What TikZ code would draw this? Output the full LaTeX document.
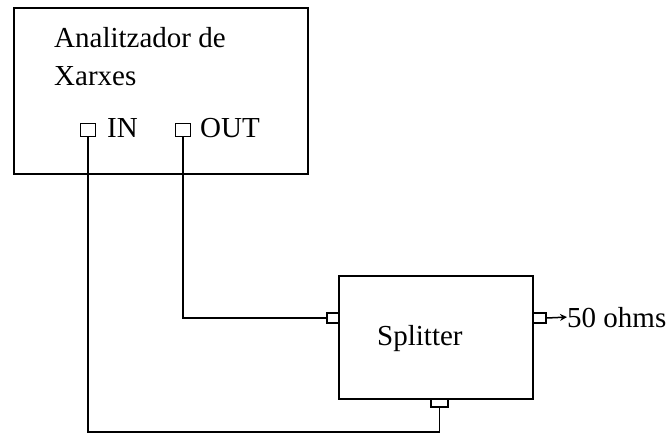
\documentclass[tikz,border=0pt]{standalone}
\usepackage{fontspec}
\setmainfont{Liberation Serif}
\usetikzlibrary{arrows.meta}
\begin{document}
\begin{tikzpicture}[x=1pt,y=-1pt,
  box/.style={draw, line width=1.5pt, inner sep=0pt, minimum width=#1},
  port/.style={draw, line width=1.5pt, inner sep=0pt, fill=white},
  wire/.style={line width=1.5pt},
  lbl/.style={anchor=base west, inner sep=0pt, font=\fontsize{29}{35}\selectfont}]
\useasboundingbox (0,0) rectangle (672,434);
% boxes
\node[draw, line width=1.5pt, inner sep=0pt, minimum width=294pt, minimum height=166pt] (ana) at (161,91) {};
\node[draw, line width=1.5pt, inner sep=0pt, minimum width=194pt, minimum height=123pt] (spl) at (436,337.5) {};
% labels
\node[lbl] (t1) at (54,47) {Analitzador de};
\node[lbl] (t2) at (54,85) {Xarxes};
\node[lbl] (tin) at (107,137) {IN};
\node[lbl] (tout) at (200,137) {OUT};
\node[lbl] (tspl) at (377,345) {Splitter};
\node[lbl] (ohm) at (567,327) {50 ohms};
% ports
\node[port, minimum width=15pt, minimum height=13pt] (pin) at (88,130) {};
\node[port, minimum width=15pt, minimum height=13pt] (pout) at (183,130) {};
\node[port, minimum width=12pt, minimum height=10pt] (psl) at (333,318) {};
\node[port, minimum width=13pt, minimum height=10pt] (psr) at (539.5,318) {};
\node[port, minimum width=17pt, minimum height=8pt] (psb) at (439.5,403) {};
\coordinate (low) at (0,432);
% wires
\draw[wire] (pin.south) -- (pin.south |- low) -| (psb.south);
\draw[wire] (pout.south) |- (psl.west);
\draw[wire, -{Stealth[length=7pt,width=7pt]}] (psr.east) -- (ohm.west);
\end{tikzpicture}
\end{document}
